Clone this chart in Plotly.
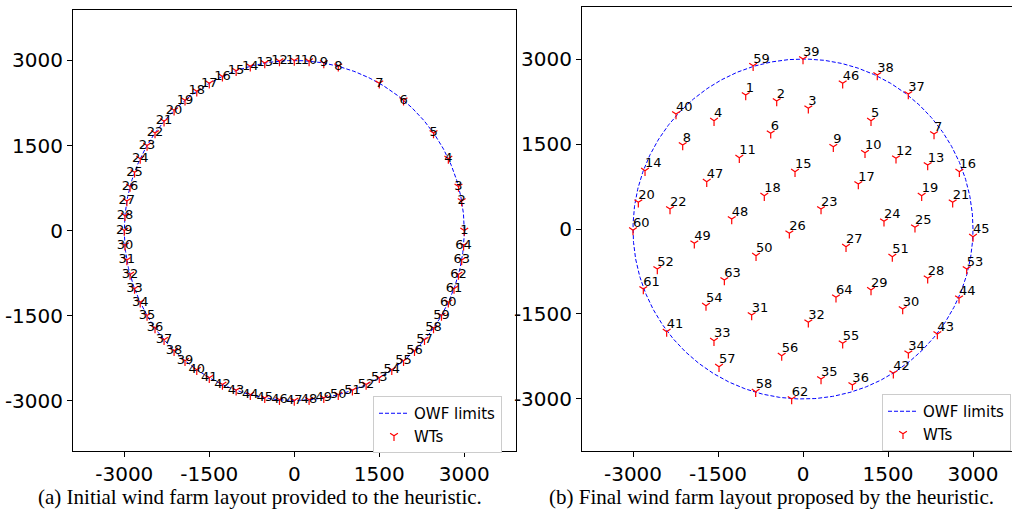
import math
import plotly.graph_objects as go

# ---------------- data ----------------
OWF_RADIUS = 3000
WT_IDS = [str(i) for i in range(1, 65)]

# (a) initial layout: turbines on the OWF boundary, angle (deg) per turbine id 1..64
LEFT_ANGLES_DEG = [0, 10, 15, 25, 35, 50, 60, 75, 80, 85, 90, 95, 100, 105, 110, 115,
                   120, 125, 130, 135, 140, 145, 150, 155, 160, 165, 170, 175, 180, 185,
                   190, 195, 200, 205, 210, 215, 220, 225, 230, 235, 240, 245, 250, 255,
                   260, 265, 270, 275, 280, 285, 290, 295, 300, 305, 310, 315, 320, 325,
                   330, 335, 340, 345, 350, 355]

# (b) final layout: coordinates per turbine id 1..64
RIGHT_X = [-1011, -464, 94, -1570, 1200, -570, 2312, -2123, 535, 1094, -1124, 1641, 2200,
           -2788, -141, 2759, 976, -683, 2094, -2906, 2641, -2347, 318, 1429, 1976, -241,
           759, 2200, 1200, 1759, -906, 94, -1571, 1859, 318, 871, 1858, 1311, 0, -2241,
           -2406, 1594, 2371, 2753, 3000, 700, -1699, -1258, -1918, -829, 1576, -2571, 2888,
           -1712, 700, -376, -1482, -835, -880, -3000, -2818, -200, -1388, 582]
RIGHT_Y = [2365, 2259, 2130, 1911, 1911, 1689, 1676, 1482, 1452, 1346, 1258, 1247, 1129,
           1029, 1011, 1011, 794, 588, 588, 471, 471, 353, 353, 135, 30, -76,
           -312, -871, -1076, -1412, -1518, -1647, -1971, -2194, -2647, -2753, 2382, 2717, 3000, 2029,
           -1812, -2547, -1853, -1224, -135, 2571, 835, 176, -253, -471, -488, -706, -706,
           -1353, -2018, -2235, -2430, -2871, 2880, -20, -1059, -3000, -900, -1206]

TICK_VALS = [-3000, -1500, 0, 1500, 3000]
TICK_TEXT = ["-3000", "-1500", "0", "1500", "3000"]

CAPTION_A = "(a) Initial wind farm layout provided to the heuristic."
CAPTION_B = "(b) Final wind farm layout proposed by the heuristic."

# ---------------- derived geometry ----------------
circ_t = [2 * math.pi * k / 720 for k in range(721)]
circ_x = [OWF_RADIUS * math.cos(t) for t in circ_t]
circ_y = [OWF_RADIUS * math.sin(t) for t in circ_t]

left_x = [OWF_RADIUS * math.cos(math.radians(a)) for a in LEFT_ANGLES_DEG]
left_y = [OWF_RADIUS * math.sin(math.radians(a)) for a in LEFT_ANGLES_DEG]

LINE_STYLE = dict(color="blue", width=1, dash="4px,2px")
MARKER_STYLE = dict(symbol="y-down", size=6.5, color="red", line=dict(color="red", width=1.2))
LABEL_FONT = dict(family="DejaVu Sans", size=13, color="black")

fig = go.Figure()

panels = [
    (left_x, left_y, "x", "y", "legend", "middle center"),
    (RIGHT_X, RIGHT_Y, "x2", "y2", "legend2", "top right"),
]
for px, py, xa, ya, lg, tpos in panels:
    fig.add_trace(go.Scatter(x=circ_x, y=circ_y, mode="lines", line=LINE_STYLE,
                             name="OWF limits", xaxis=xa, yaxis=ya, legend=lg,
                             hoverinfo="skip"))
    fig.add_trace(go.Scatter(x=px, y=py, mode="markers", marker=MARKER_STYLE,
                             name="WTs", xaxis=xa, yaxis=ya, legend=lg))
    fig.add_trace(go.Scatter(x=px, y=py, mode="text", text=WT_IDS, textposition=tpos,
                             textfont=LABEL_FONT, showlegend=False, xaxis=xa, yaxis=ya,
                             hoverinfo="skip"))

W, H = 1012, 514
axis_common = dict(
    tickvals=TICK_VALS, ticktext=TICK_TEXT, ticks="outside", ticklen=5, tickwidth=1,
    tickcolor="black", showline=True, linecolor="black", linewidth=1, mirror=True,
    showgrid=False, zeroline=False,
    tickfont=dict(family="DejaVu Sans", size=20, color="black"),
)

fig.update_layout(
    width=W, height=H,
    margin=dict(l=0, r=0, t=0, b=0, autoexpand=False),
    paper_bgcolor="white", plot_bgcolor="white",
    xaxis=dict(domain=[73 / W, 516 / W], range=[-3905, 3913], **axis_common),
    yaxis=dict(domain=[1 - 451 / H, 1 - 10 / H], range=[-3891, 3891], **axis_common),
    xaxis2=dict(domain=[582 / W, 1.0], range=[-3900, 3688], anchor="y2", **axis_common),
    yaxis2=dict(domain=[1 - 451 / H, 1 - 7 / H], range=[-3918, 3918], anchor="x2", **axis_common),
    legend=dict(x=373 / W, y=1 - 396 / H, xanchor="left", yanchor="top",
                bgcolor="white", bordercolor="#cccccc", borderwidth=1,
                font=dict(family="DejaVu Sans", size=15, color="black")),
    legend2=dict(x=882 / W, y=1 - 394 / H, xanchor="left", yanchor="top",
                 bgcolor="white", bordercolor="#cccccc", borderwidth=1,
                 font=dict(family="DejaVu Sans", size=15, color="black")),
    annotations=[
        dict(text=CAPTION_A, x=260 / W, y=1 - 497 / H, xref="paper", yref="paper",
             xanchor="center", yanchor="middle", showarrow=False,
             font=dict(family="Liberation Serif", size=21, color="black")),
        dict(text=CAPTION_B, x=771 / W, y=1 - 497 / H, xref="paper", yref="paper",
             xanchor="center", yanchor="middle", showarrow=False,
             font=dict(family="Liberation Serif", size=21, color="black")),
    ],
    showlegend=True,
)

fig.write_html("out.html")
